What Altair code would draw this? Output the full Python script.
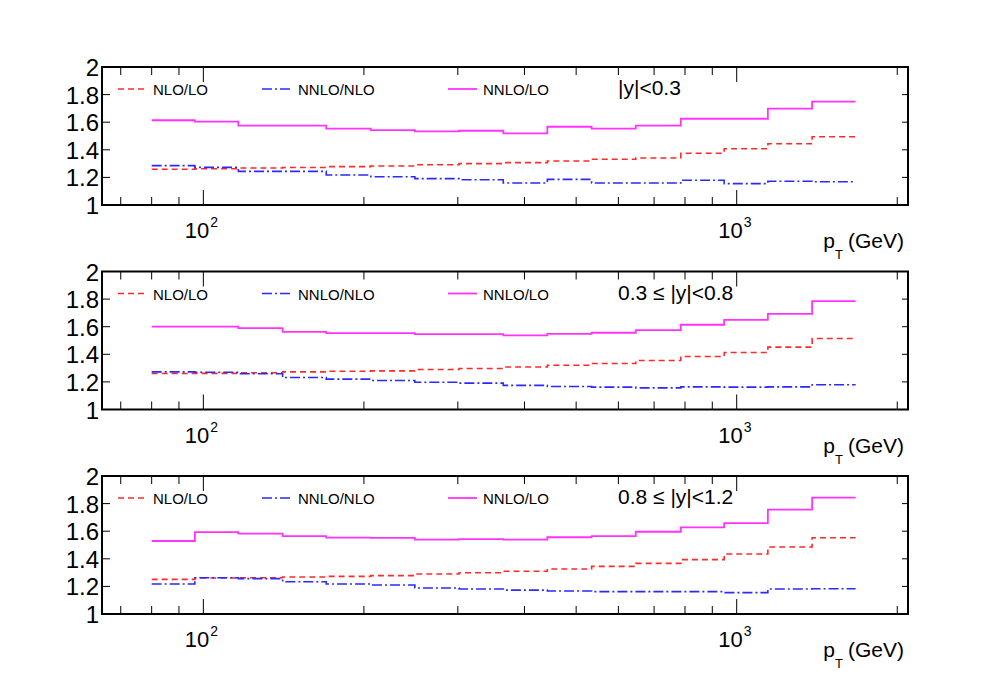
import altair as alt
import pandas as pd

FONT = "Liberation Sans"

# bin edges in pT (GeV)
edges = [80, 96.4, 116.3, 140.8, 170, 206, 249.2, 301.6, 365, 441.5,
         534.5, 646.8, 785.5, 947.5, 1144, 1385, 1671]

# |y| < 0.3
nlo_lo_1 = [1.259, 1.263, 1.268, 1.272, 1.278, 1.283, 1.292, 1.300, 1.307, 1.319,
            1.331, 1.341, 1.375, 1.408, 1.444, 1.495]
nnlo_nlo_1 = [1.285, 1.273, 1.244, 1.244, 1.217, 1.205, 1.191, 1.183, 1.159, 1.186,
              1.159, 1.159, 1.179, 1.155, 1.172, 1.168]
nnlo_lo_1 = [1.614, 1.604, 1.575, 1.575, 1.553, 1.543, 1.534, 1.538, 1.519, 1.567,
             1.553, 1.575, 1.625, 1.625, 1.698, 1.749]

# 0.3 <= |y| < 0.8
nlo_lo_2 = [1.261, 1.262, 1.266, 1.273, 1.277, 1.280, 1.290, 1.297, 1.308, 1.321,
            1.333, 1.355, 1.384, 1.413, 1.452, 1.514]
nnlo_nlo_2 = [1.273, 1.270, 1.259, 1.232, 1.220, 1.210, 1.198, 1.191, 1.175, 1.167,
              1.162, 1.157, 1.164, 1.162, 1.164, 1.179]
nnlo_lo_2 = [1.601, 1.601, 1.589, 1.563, 1.553, 1.553, 1.546, 1.546, 1.537, 1.548,
             1.556, 1.575, 1.614, 1.650, 1.693, 1.785]

# 0.8 <= |y| < 1.2
nlo_lo_3 = [1.251, 1.261, 1.263, 1.268, 1.273, 1.278, 1.290, 1.299, 1.310, 1.326,
            1.345, 1.367, 1.394, 1.435, 1.486, 1.553]
nnlo_nlo_3 = [1.217, 1.263, 1.256, 1.234, 1.217, 1.210, 1.188, 1.181, 1.173, 1.167,
              1.162, 1.162, 1.162, 1.155, 1.181, 1.183]
nnlo_lo_3 = [1.529, 1.594, 1.582, 1.565, 1.553, 1.551, 1.539, 1.543, 1.539, 1.556,
             1.565, 1.596, 1.628, 1.659, 1.756, 1.843]

region_labels = ["|y|<0.3", "0.3 \u2264 |y|<0.8", "0.8 \u2264 |y|<1.2"]
series_names = ["NLO/LO", "NNLO/NLO", "NNLO/LO"]

x_major = [100, 1000]
x_major_base = ["10", "10"]
x_major_exp = ["2", "3"]
x_minor = [70, 80, 90, 200, 300, 400, 500, 600, 700, 800, 900, 2000]
y_ticks = [1.2, 1.4, 1.6, 1.8]
y_label_vals = [1, 1.2, 1.4, 1.6, 1.8, 2]
y_label_text = ["1", "1.2", "1.4", "1.6", "1.8", "2"]

W, H = 806, 138

xscale = alt.Scale(type="log", domain=[64.56, 2095], nice=False)
yscale = alt.Scale(domain=[1, 2], nice=False, zero=False)

RED, BLUE, MAG = "#ff2a2a", "#2a2aff", "#ff33ff"
DASH_RED = [6, 4]
DASH_BLUE = [10, 3, 2, 3]


def step_df(vals):
    return pd.DataFrame({"x": edges, "y": list(vals) + [vals[-1]]})


def step_line(vals, color, dash=None, width=1.6):
    kw = dict(interpolate="step-after", color=color, strokeWidth=width)
    if dash:
        kw["strokeDash"] = dash
    return alt.Chart(step_df(vals)).mark_line(**kw).encode(
        x=alt.X("x:Q", scale=xscale, axis=None),
        y=alt.Y("y:Q", scale=yscale, axis=None),
    )


def txt(s, x, y, size, align="left", color="black"):
    return alt.Chart(pd.DataFrame({"t": [s]})).mark_text(
        align=align, baseline="alphabetic", fontSize=size, font=FONT, color=color
    ).encode(x=alt.value(x), y=alt.value(y), text="t:N")


def seg(x1, x2, y, color, dash=None, width=1.6):
    kw = dict(color=color, strokeWidth=width)
    if dash:
        kw["strokeDash"] = dash
    return alt.Chart(pd.DataFrame({"a": [0]})).mark_rule(**kw).encode(
        x=alt.value(x1), x2=alt.value(x2), y=alt.value(y)
    )


def xticks(vals, length):
    df = pd.DataFrame({"v": vals})
    bottom = alt.Chart(df).mark_rule(color="black", strokeWidth=1).encode(
        x=alt.X("v:Q", scale=xscale, axis=None), y=alt.value(H), y2=alt.value(H - length)
    )
    top = alt.Chart(df).mark_rule(color="black", strokeWidth=1).encode(
        x=alt.X("v:Q", scale=xscale, axis=None), y=alt.value(0), y2=alt.value(length)
    )
    return [bottom, top]


def panel(nlo, nnlo_nlo, nnlo_lo, label, anchor=False):
    layers = []
    layers.append(step_line(nlo, RED, DASH_RED))
    layers.append(step_line(nnlo_nlo, BLUE, DASH_BLUE))
    layers.append(step_line(nnlo_lo, MAG, width=1.8))

    # y ticks (inside, left and right) and y labels
    ydf = pd.DataFrame({"v": y_ticks})
    layers.append(
        alt.Chart(ydf).mark_rule(color="black", strokeWidth=1).encode(
            y=alt.Y("v:Q", scale=yscale, axis=None), x=alt.value(0), x2=alt.value(8)
        )
    )
    layers.append(
        alt.Chart(ydf).mark_rule(color="black", strokeWidth=1).encode(
            y=alt.Y("v:Q", scale=yscale, axis=None), x=alt.value(W), x2=alt.value(W - 6)
        )
    )
    yl = pd.DataFrame({"v": y_label_vals, "t": y_label_text})
    layers.append(
        alt.Chart(yl).mark_text(align="right", baseline="middle", dy=2, fontSize=24,
                                font=FONT, color="black").encode(
            y=alt.Y("v:Q", scale=yscale, axis=None), x=alt.value(-3), text="t:N")
    )

    layers += xticks(x_minor, 8)
    layers += xticks(x_major, 15)

    # x tick labels 10^2, 10^3
    xl = pd.DataFrame({"v": x_major, "b": x_major_base, "e": x_major_exp})
    layers.append(
        alt.Chart(xl).mark_text(align="right", baseline="alphabetic", dx=6, fontSize=22,
                                font=FONT, color="black").encode(
            x=alt.X("v:Q", scale=xscale, axis=None), y=alt.value(H + 33), text="b:N")
    )
    layers.append(
        alt.Chart(xl).mark_text(align="left", baseline="alphabetic", dx=7, fontSize=14,
                                font=FONT, color="black").encode(
            x=alt.X("v:Q", scale=xscale, axis=None), y=alt.value(H + 22), text="e:N")
    )
    # x title p_T (GeV)
    layers.append(txt("p", 733, H + 43, 21, align="right"))
    layers.append(txt("T", 733, H + 54, 13))
    layers.append(txt("(GeV)", 746, H + 43, 21))

    # legend
    ly = 22
    layers.append(seg(16, 45, ly, RED, DASH_RED))
    layers.append(txt(series_names[0], 51, ly + 6, 15))
    layers.append(seg(160, 191, ly, BLUE, DASH_BLUE))
    layers.append(txt(series_names[1], 196, ly + 6, 15))
    layers.append(seg(346, 375, ly, MAG, width=1.8))
    layers.append(txt(series_names[2], 381, ly + 6, 15))
    layers.append(txt(label, 516, 28, 21))

    if anchor:
        layers.append(seg(-91.8, -91.7, -57.5, "white", width=1))

    return alt.layer(*layers).properties(width=W, height=H)


p1 = panel(nlo_lo_1, nnlo_nlo_1, nnlo_lo_1, region_labels[0], anchor=True)
p2 = panel(nlo_lo_2, nnlo_nlo_2, nnlo_lo_2, region_labels[1])
p3 = panel(nlo_lo_3, nnlo_nlo_3, nnlo_lo_3, region_labels[2])

chart = alt.vconcat(p1, p2, p3, spacing=-2.5).properties(
    padding={"left": 0, "top": 0, "right": 5, "bottom": 5}
).configure_view(stroke="black", strokeWidth=2)

chart.save("out.html", embed_options={"renderer": "svg", "actions": False})
